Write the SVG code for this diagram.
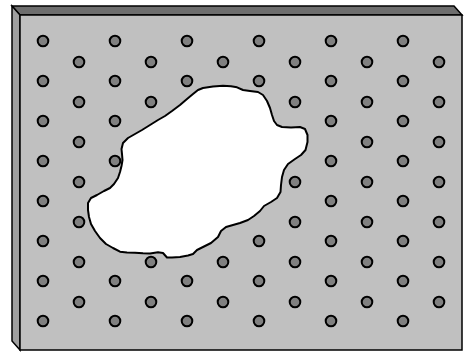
<svg xmlns="http://www.w3.org/2000/svg" width="464" height="352" viewBox="0 0 464 352">
<style>
.dot{fill:#808080;stroke:#000;stroke-width:2}
.edge{stroke:#000;stroke-width:1.5;stroke-linejoin:miter}
</style>
<defs>
<circle id="d" r="5.3" class="dot"/>
</defs>
<rect width="464" height="352" fill="#fff"/>
<g id="slab">
<polygon points="12,6 454,6 462,15 20,15" fill="#6e6e6e" class="edge"/>
<polygon points="12,6 20,15 20,350 12,341" fill="#a0a0a0" class="edge"/>
<rect x="20" y="15" width="442" height="335" fill="#c0c0c0" class="edge"/>
</g>
<g id="dots">
<use href="#d" x="43" y="41"/><use href="#d" x="115" y="41"/><use href="#d" x="187" y="41"/><use href="#d" x="259" y="41"/><use href="#d" x="331" y="41"/><use href="#d" x="403" y="41"/>
<use href="#d" x="43" y="81"/><use href="#d" x="115" y="81"/><use href="#d" x="187" y="81"/><use href="#d" x="259" y="81"/><use href="#d" x="331" y="81"/><use href="#d" x="403" y="81"/>
<use href="#d" x="43" y="121"/><use href="#d" x="115" y="121"/><use href="#d" x="187" y="121"/><use href="#d" x="259" y="121"/><use href="#d" x="331" y="121"/><use href="#d" x="403" y="121"/>
<use href="#d" x="43" y="161"/><use href="#d" x="115" y="161"/><use href="#d" x="187" y="161"/><use href="#d" x="259" y="161"/><use href="#d" x="331" y="161"/><use href="#d" x="403" y="161"/>
<use href="#d" x="43" y="201"/><use href="#d" x="115" y="201"/><use href="#d" x="187" y="201"/><use href="#d" x="259" y="201"/><use href="#d" x="331" y="201"/><use href="#d" x="403" y="201"/>
<use href="#d" x="43" y="241"/><use href="#d" x="115" y="241"/><use href="#d" x="187" y="241"/><use href="#d" x="259" y="241"/><use href="#d" x="331" y="241"/><use href="#d" x="403" y="241"/>
<use href="#d" x="43" y="281"/><use href="#d" x="115" y="281"/><use href="#d" x="187" y="281"/><use href="#d" x="259" y="281"/><use href="#d" x="331" y="281"/><use href="#d" x="403" y="281"/>
<use href="#d" x="43" y="321"/><use href="#d" x="115" y="321"/><use href="#d" x="187" y="321"/><use href="#d" x="259" y="321"/><use href="#d" x="331" y="321"/><use href="#d" x="403" y="321"/>
<use href="#d" x="79" y="62"/><use href="#d" x="151" y="62"/><use href="#d" x="223" y="62"/><use href="#d" x="295" y="62"/><use href="#d" x="367" y="62"/><use href="#d" x="439" y="62"/>
<use href="#d" x="79" y="102"/><use href="#d" x="151" y="102"/><use href="#d" x="223" y="102"/><use href="#d" x="295" y="102"/><use href="#d" x="367" y="102"/><use href="#d" x="439" y="102"/>
<use href="#d" x="79" y="142"/><use href="#d" x="151" y="142"/><use href="#d" x="223" y="142"/><use href="#d" x="295" y="142"/><use href="#d" x="367" y="142"/><use href="#d" x="439" y="142"/>
<use href="#d" x="79" y="182"/><use href="#d" x="151" y="182"/><use href="#d" x="223" y="182"/><use href="#d" x="295" y="182"/><use href="#d" x="367" y="182"/><use href="#d" x="439" y="182"/>
<use href="#d" x="79" y="222"/><use href="#d" x="151" y="222"/><use href="#d" x="223" y="222"/><use href="#d" x="295" y="222"/><use href="#d" x="367" y="222"/><use href="#d" x="439" y="222"/>
<use href="#d" x="79" y="262"/><use href="#d" x="151" y="262"/><use href="#d" x="223" y="262"/><use href="#d" x="295" y="262"/><use href="#d" x="367" y="262"/><use href="#d" x="439" y="262"/>
<use href="#d" x="79" y="302"/><use href="#d" x="151" y="302"/><use href="#d" x="223" y="302"/><use href="#d" x="295" y="302"/><use href="#d" x="367" y="302"/><use href="#d" x="439" y="302"/>
</g>
<g id="hole">
<path fill="#fff" stroke="#000" stroke-width="2" stroke-linejoin="round" d="M203,88 L213,86.5 L223,85.7 L231,86.2 L237,87.3 L243,90 L250,91 L258,92 L263,95 L267,101 L270,108 L272,115 L274,121 L277,125 L282,127 L291,127.5 L300,127 L305,129 L307.5,135 L307.5,142 L305.5,150 L301,155 L295,159 L288,164 L284,170 L282,177 L281,185 L280.5,192 L277,198 L271,202 L264,206 L260,211 L254,216 L248,220 L240,223 L233,225 L226,227 L221,231 L218,237 L211,243 L203,247 L197,250 L193,254 L188,255.5 L180,257 L172,257.5 L167,257.5 L163,253 L158,252.3 L150,253.5 L143,253.3 L135,252.7 L127,252.5 L120,251.7 L113,248 L106,244 L100,238 L95,231 L91,224 L89,217 L88,210 L88,203 L91,198 L97,195 L104,191 L110,188 L114,184 L118,178 L120,172 L121.5,166 L122.5,160 L122,154 L121.5,149 L123,143 L128,138 L135,134 L142,130 L150,125 L158,120 L165,116 L172,111 L180,105 L187,99 L193,94 L198,90 Z"/>
</g>
</svg>
